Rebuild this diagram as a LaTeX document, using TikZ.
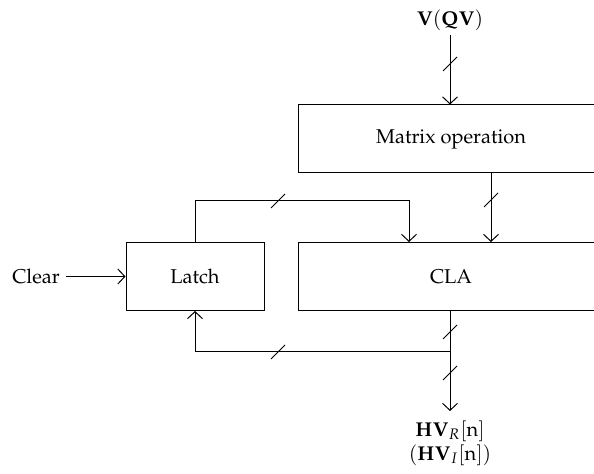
\documentclass[tikz,border=0pt]{standalone}
\usepackage{amsmath}
\usepackage[T1]{fontenc}
\usepackage{mathpazo}
\usetikzlibrary{arrows.meta,positioning}

\begin{document}
\begin{tikzpicture}[
  x=0.5pt,y=-0.5pt,
  line width=0.5pt,
  blk/.style={draw,minimum height=34pt,inner sep=0pt,font=\normalsize},
  lbl/.style={align=center,inner sep=0pt},
  arr/.style={-{Straight Barb[length=3.5pt,width=7.5pt]}},
  pics/bus/.style={code={\draw (-3.5pt,-3.5pt) -- (3.5pt,3.5pt);}}
]
\useasboundingbox (0,0) rectangle (594,474);
\clip (0,0) rectangle (594,474);

\node[blk,minimum width=153pt] (matop) at (451,139) {Matrix operation};
\node[blk,minimum width=153pt] (cla) at (451,276.5) {CLA};
\node[blk,minimum width=69pt] (latch) at (195,276.5) {Latch};

\node[lbl,inner sep=1.5pt,anchor=base] (vin) at (450,26) {$\mathbf{V}(\mathbf{QV})$};
\node[lbl,inner sep=3pt] (clr) at (36,276.5) {Clear};
\node[lbl,anchor=north] (hv) at (450,420)
  {$\mathbf{HV}_{R}[\mathrm{n}]$\\$(\mathbf{HV}_{I}[\mathrm{n}])$};

\coordinate (fb) at (409,201);
\coordinate (jn) at (450,352);

% input and matrix path
\draw[arr] (vin.south) -- (vin.south |- matop.north);
\draw[arr] ([xshift=20pt]matop.south) -- ([xshift=20pt]cla.north);
\draw[arr] (clr.east) -- (latch.west);

% latch loop
\draw[arr] (latch.north) |- (fb) -- (fb |- cla.north);
\draw (jn |- cla.south) -- (jn);
\draw[arr] (jn) -| (latch.south);
\draw[arr,shorten >=4.5pt] (jn) -- (hv.north);

% bus marks
\pic at (450,64) {bus};
\pic at (491,200) {bus};
\pic at (278,201) {bus};
\pic at (278,352) {bus};
\pic at (450,332) {bus};
\pic at (450,373) {bus};
\end{tikzpicture}
\end{document}
